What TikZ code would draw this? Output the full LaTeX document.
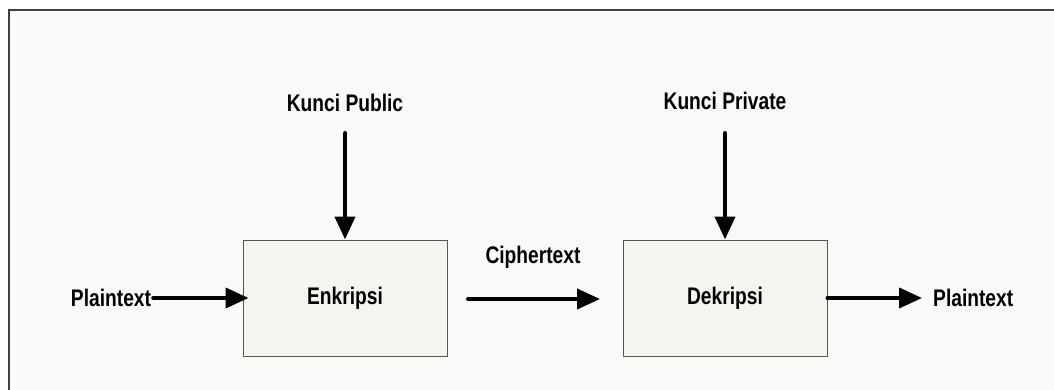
\documentclass[tikz,border=0pt]{standalone}
\usepackage{fontspec}
\setmainfont{Liberation Sans}[FakeStretch=0.8]
\usetikzlibrary{arrows.meta}
\definecolor{bgcol}{HTML}{F9F9F9}
\definecolor{boxfill}{HTML}{F3F5EE}
\definecolor{boxline}{HTML}{555555}
\definecolor{framecol}{HTML}{404040}
\begin{document}
\begin{tikzpicture}[x=1pt,y=-1pt,
  lbl/.style={font=\fontsize{24}{28}\selectfont\bfseries, inner sep=2pt},
  procbox/.style={draw=boxline, line width=1pt, fill=boxfill, minimum width=204pt, minimum height=116pt, inner sep=0pt, font=\fontsize{24}{28}\selectfont\bfseries},
  flow/.style={line width=4pt, line cap=round, -{Triangle[length=23pt,width=20pt]}}
]
\useasboundingbox (0,0) rectangle (1054,390);
\fill[white] (0,0) rectangle (1054,390);
\fill[bgcol] (9,10) rectangle (1054,390);
\draw[framecol, line width=2pt] (9,390) -- (9,10) -- (1054,10);

\node[procbox] (enk) at (345,298) {Enkripsi};
\node[procbox] (dek) at (725,298) {Dekripsi};

\node[lbl] (ptin) at (111,298) {Plaintext};
\node[lbl] (kpub) at (345,103) {Kunci Public};
\node[lbl] (kpriv) at (725,101) {Kunci Private};
\node[lbl] (ct) at (533,257) {Ciphertext};
\node[lbl, anchor=west] (ptout) at (931,298) {Plaintext};

\coordinate (kpubs) at (345,133);
\coordinate (kprivs) at (725,133);
\coordinate (cts) at (468,299);
\coordinate (cte) at (600,299);

\draw[flow, shorten >=-6pt] (ptin.east) -- (enk.west);
\draw[flow] (kpubs) -- (enk.north);
\draw[flow] (kprivs) -- (dek.north);
\draw[flow] (cts) -- (cte);
\draw[flow, shorten >=9pt] (dek.east) -- (ptout.west);
\end{tikzpicture}
\end{document}
